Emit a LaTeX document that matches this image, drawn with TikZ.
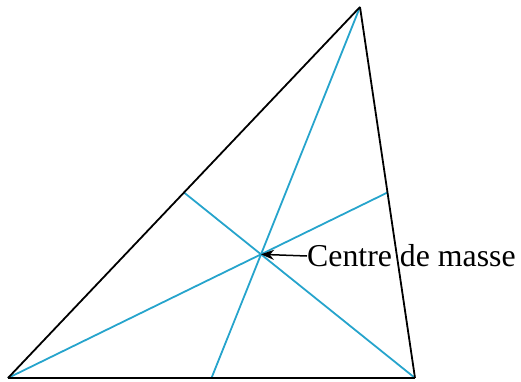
\documentclass[tikz,border=0pt]{standalone}
\usepackage{fontspec}
\setmainfont{Liberation Serif}
\usetikzlibrary{arrows.meta,calc}
\definecolor{medcyan}{RGB}{38,164,204}
\tikzset{side/.style={black,line width=1.8pt}, median/.style={medcyan,line width=1.8pt}}
\begin{document}
\begin{tikzpicture}[x=1pt,y=-1pt]
\useasboundingbox (0,0) rectangle (521,381);
\coordinate (A) at (8,378);
\coordinate (B) at (415,378);
\coordinate (C) at (360,7);
\coordinate (MAB) at ($(A)!0.5!(B)$);
\coordinate (MBC) at ($(B)!0.5!(C)$);
\coordinate (MAC) at ($(A)!0.5!(C)$);
\coordinate (G) at ($(A)!0.6667!(MBC)$);
\draw[median] (A)--(MBC);
\draw[median] (B)--(MAC);
\draw[median] (C)--(MAB);
\draw[side] (A)--(B);
\draw[side] (B)--(C);
\draw[side] (C)--(A);
\node[anchor=west,inner sep=0pt,font=\fontsize{31.8}{36}\selectfont] (lbl) at (307,256) {Centre de masse};
\draw[-{Stealth[length=13pt,width=10pt]},line width=1.5pt] (lbl.west)--(G);
\end{tikzpicture}
\end{document}
